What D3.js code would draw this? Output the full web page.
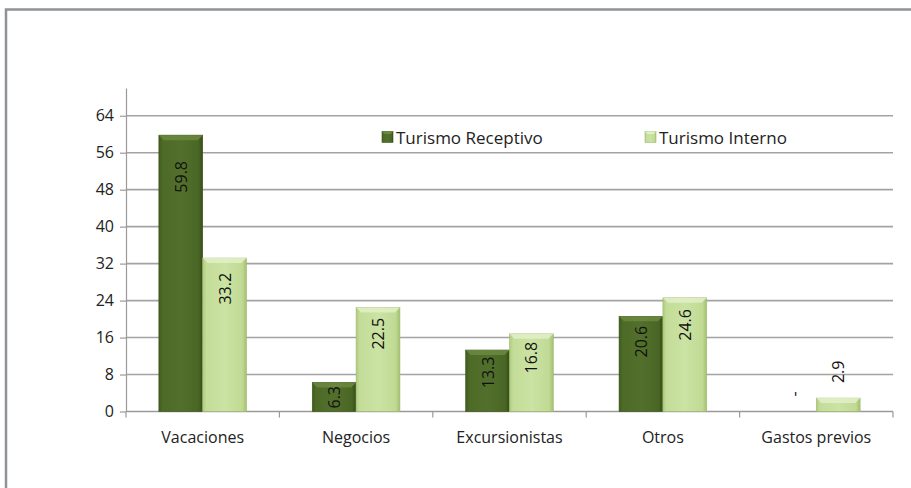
<!DOCTYPE html>
<html><head><meta charset="utf-8">
<script src="https://cdn.jsdelivr.net/npm/d3@7"></script>
<style>
body{margin:0;background:#fff;}
svg{display:block;font-family:"Open Sans",Lato,sans-serif;}
</style></head>
<body><svg id="c" width="911" height="488"></svg>
<script>
const categories = ["Vacaciones","Negocios","Excursionistas","Otros","Gastos previos"];
const seriesNames = ["Turismo Receptivo","Turismo Interno"];
const receptivo = [59.8, 6.3, 13.3, 20.6, 0];
const interno = [33.2, 22.5, 16.8, 24.6, 2.9];
const receptivoLabels = ["59.8","6.3","13.3","20.6","-"];
const internoLabels = ["33.2","22.5","16.8","24.6","2.9"];
const yTicks = [0,8,16,24,32,40,48,56,64];

(function(){
const svg = d3.select("#c");
const W = 911, H = 488;
const pLeft = 126, pRight = 893, pTop = 88, pBottom = 411.5;
const FS = 16;

// frame
svg.append("path").attr("d", `M6,${H} L6,9.5 L${W},9.5`).attr("fill","none")
  .attr("stroke","#8d9397").attr("stroke-width",2.5);

const x0 = d3.scaleBand().domain(categories).range([pLeft,pRight]).paddingInner(0).paddingOuter(0);
const bw = x0.bandwidth()/3.5;
const x1 = d3.scaleBand().domain(seriesNames).range([0, bw*2]);
const y = d3.scaleLinear().domain([0,70]).range([pBottom, pTop]);

const defs = svg.append("defs");
function grad(id, stops){
  const g = defs.append("linearGradient").attr("id",id).attr("x1","0%").attr("x2","100%").attr("y1","0%").attr("y2","0%");
  stops.forEach(s=>g.append("stop").attr("offset",s[0]).attr("stop-color",s[1]));
}
grad("gDark", [["0%","#3f5b1e"],["8%","#4d6a27"],["50%","#52702b"],["90%","#4a6625"],["100%","#344d17"]]);
grad("gLight", [["0%","#aecb7e"],["8%","#c3dc98"],["50%","#cbe3a3"],["90%","#c0da94"],["100%","#a3c070"]]);
defs.append("clipPath").attr("id","plotClip").append("rect")
  .attr("x",pLeft).attr("y",0).attr("width",pRight-pLeft).attr("height",pBottom);

// gridlines
svg.append("g").selectAll("line").data(yTicks.filter(d=>d>0)).join("line")
  .attr("x1",pLeft).attr("x2",pRight).attr("y1",d=>y(d)).attr("y2",d=>y(d))
  .attr("stroke","#a3a3a3").attr("stroke-width",1.6);

// y axis
const yAxis = svg.append("g").attr("transform",`translate(${pLeft},0)`)
  .call(d3.axisLeft(y).tickValues(yTicks).tickSize(6).tickPadding(6).tickSizeOuter(0));
yAxis.select(".domain").attr("stroke","#9a9a9a").attr("stroke-width",1.2);
yAxis.selectAll(".tick line").attr("stroke","#9a9a9a").attr("stroke-width",1.2);
yAxis.selectAll("text").attr("font-size",FS).attr("fill","#222").attr("font-family","'Open Sans',sans-serif");

// x axis
const xAxisG = svg.append("g").attr("transform",`translate(0,${pBottom})`);
xAxisG.append("line").attr("x1",pLeft).attr("x2",pRight).attr("stroke","#9a9a9a").attr("stroke-width",1.6);
const bounds = categories.map(c=>x0(c)).concat([pRight]);
xAxisG.selectAll("line.tk").data(bounds).join("line").attr("class","tk")
  .attr("x1",d=>d).attr("x2",d=>d).attr("y1",0).attr("y2",6).attr("stroke","#9a9a9a").attr("stroke-width",1.2);
xAxisG.selectAll("text").data(categories).join("text")
  .attr("x",d=>x0(d)+x0.bandwidth()/2).attr("y",31.5)
  .attr("text-anchor","middle").attr("font-size",FS).attr("fill","#222").text(d=>d);

// bars
const rows = categories.map((c,i)=>({cat:c, vals:[
  {s:seriesNames[0], v:receptivo[i], lab:receptivoLabels[i], fill:"url(#gDark)", bevel:"#6b8a40", stroke:"#3a5219"},
  {s:seriesNames[1], v:interno[i], lab:internoLabels[i], fill:"url(#gLight)", bevel:"#e2f0c8", stroke:"#9fbb70"}]}));

const gBars = svg.append("g");
rows.forEach(r=>{
  const g = gBars.append("g").attr("transform",`translate(${x0(r.cat)+x0.bandwidth()/2-bw},0)`);
  r.vals.forEach(d=>{
    const bx = x1(d.s), by = y(d.v), bh = pBottom - by, w = x1.bandwidth();
    if (bh <= 0) return;
    g.append("rect").attr("x",bx).attr("y",by).attr("width",w).attr("height",bh)
      .attr("fill",d.fill).attr("stroke",d.stroke).attr("stroke-width",0.6);
    const bv = Math.min(5, bh/2);
    g.append("path").attr("d",`M${bx},${by} L${bx+w},${by} L${bx+w-bv},${by+bv} L${bx+bv},${by+bv} Z`)
      .attr("fill",d.bevel).attr("opacity",0.85);
  });
});

// labels
const gLab = svg.append("g").attr("clip-path","url(#plotClip)");
rows.forEach(r=>{
  r.vals.forEach(d=>{
    const cx = x0(r.cat)+x0.bandwidth()/2-bw + x1(d.s) + x1.bandwidth()/2;
    const by = y(d.v), bh = pBottom-by;
    const inside = bh > 20;
    const ay = inside ? by + 1 + bh*0.09 : by - 15;
    gLab.append("text").attr("transform",`translate(${cx},${ay}) rotate(-90)`)
      .attr("text-anchor", inside ? "end" : "start")
      .attr("dominant-baseline","central")
      .attr("font-size",FS).attr("fill","#111").text(d.lab);
  });
});

// legend
const legend = svg.append("g");
const legX = [382, 645];
const legFill = ["url(#gDark)","url(#gLight)"];
const legBevel = ["#6b8a40","#e2f0c8"];
seriesNames.forEach((s,i)=>{
  const g = legend.append("g").attr("transform",`translate(${legX[i]},131.5)`);
  g.append("rect").attr("width",11).attr("height",11).attr("fill",legFill[i]).attr("stroke",i?"#9fbb70":"#3a5219").attr("stroke-width",0.6);
  g.append("path").attr("d","M0,0 L11,0 L8.5,2.5 L2.5,2.5 Z").attr("fill",legBevel[i]);
  g.append("text").attr("x",14).attr("y",5.5).attr("dominant-baseline","central")
    .attr("font-size",17).attr("fill","#222").text(s);
});
})();
</script></body></html>
